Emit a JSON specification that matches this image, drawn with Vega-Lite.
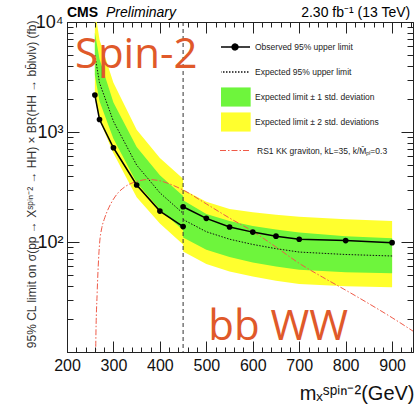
{
  "$schema": "https://vega.github.io/schema/vega-lite/v6.json",
  "width": 346,
  "height": 330,
  "autosize": {"type": "none"},
  "padding": {"left": 67, "top": 22, "right": 5, "bottom": 53},
  "background": "white",
  "config": {
    "view": {"stroke": "#222", "strokeWidth": 1},
    "font": "Liberation Sans",
    "axis": {"tickColor": "#222", "tickWidth": 1, "tickOpacity": 1, "domain": false, "grid": false}
  },
  "datasets": {
    "lim": [
      {"m": 260, "seg": "a", "obs": 2170, "exp": 5000, "g1dn": 3300, "g1up": 8000, "y2dn": 2050, "y2up": 13000},
      {"m": 270, "seg": "a", "obs": 1300, "exp": 2800, "g1dn": 1900, "g1up": 4600, "y2dn": 1280, "y2up": 6900},
      {"m": 300, "seg": "a", "obs": 719, "exp": 1250, "g1dn": 870, "g1up": 1850, "y2dn": 640, "y2up": 2800},
      {"m": 350, "seg": "a", "obs": 330, "exp": 500, "g1dn": 345, "g1up": 730, "y2dn": 255, "y2up": 1050},
      {"m": 400, "seg": "a", "obs": 191, "exp": 280, "g1dn": 197, "g1up": 405, "y2dn": 147, "y2up": 580},
      {"m": 450, "seg": "a", "obs": 138, "exp": 182, "g1dn": 128, "g1up": 262, "y2dn": 95, "y2up": 375},
      {"m": 450, "seg": "b", "obs": 209, "exp": 160, "g1dn": 110, "g1up": 240, "y2dn": 82, "y2up": 300},
      {"m": 500, "seg": "b", "obs": 164, "exp": 124, "g1dn": 85, "g1up": 180, "y2dn": 63, "y2up": 232},
      {"m": 550, "seg": "b", "obs": 137, "exp": 106, "g1dn": 73, "g1up": 155, "y2dn": 54, "y2up": 200},
      {"m": 600, "seg": "b", "obs": 123, "exp": 95, "g1dn": 65, "g1up": 140, "y2dn": 48.5, "y2up": 186},
      {"m": 650, "seg": "b", "obs": 113, "exp": 87, "g1dn": 60, "g1up": 130, "y2dn": 44.5, "y2up": 177},
      {"m": 700, "seg": "b", "obs": 106, "exp": 81, "g1dn": 56, "g1up": 122, "y2dn": 41.5, "y2up": 170},
      {"m": 800, "seg": "b", "obs": 103, "exp": 77, "g1dn": 53, "g1up": 113, "y2dn": 39.5, "y2up": 161},
      {"m": 900, "seg": "b", "obs": 98.6, "exp": 74.6, "g1dn": 52, "g1up": 108, "y2dn": 38.7, "y2up": 155}
    ],
    "rs1": [
      {"m": 260, "xs": 1},
      {"m": 262, "xs": 12},
      {"m": 265, "xs": 35},
      {"m": 268, "xs": 70},
      {"m": 270, "xs": 95},
      {"m": 275, "xs": 135},
      {"m": 280, "xs": 160},
      {"m": 290, "xs": 205},
      {"m": 300, "xs": 245},
      {"m": 310, "xs": 280},
      {"m": 325, "xs": 318},
      {"m": 350, "xs": 355},
      {"m": 375, "xs": 370},
      {"m": 400, "xs": 360},
      {"m": 425, "xs": 332},
      {"m": 450, "xs": 297},
      {"m": 500, "xs": 222},
      {"m": 550, "xs": 165},
      {"m": 600, "xs": 125},
      {"m": 650, "xs": 90},
      {"m": 700, "xs": 64},
      {"m": 750, "xs": 48},
      {"m": 800, "xs": 36.5},
      {"m": 850, "xs": 27.5},
      {"m": 900, "xs": 20.5},
      {"m": 950, "xs": 15}
    ]
  },
  "layer": [
    {
      "data": {"name": "lim"},
      "mark": {"type": "area", "clip": true},
      "encoding": {
        "x": {
          "field": "m", "type": "quantitative",
          "scale": {"domain": [200, 945], "nice": false, "zero": false},
          "axis": {
            "orient": "bottom", "tickCount": 8, "ticks": false,
            "labelFontSize": 16, "labelColor": "#111", "labelPadding": 5, "labelFlush": false, "labelOverlap": false,
            "labelFont": "Liberation Sans",
            "title": "mₓˢᵖⁱⁿ⁻²(GeV)", "titleFontSize": 20, "titleFontWeight": "normal", "titleColor": "#111",
            "titleFont": "Liberation Sans",
            "titleAnchor": "end", "titleAlign": "right", "titleBaseline": "alphabetic", "titleX": 347, "titleY": 47
          }
        },
        "y": {
          "field": "y2dn", "type": "quantitative",
          "scale": {"type": "log", "domain": [10, 10000], "nice": false},
          "axis": {
            "orient": "left", "tickCount": 3, "ticks": false,
            "labelExpr": "datum.value === 100 ? '10²' : datum.value === 1000 ? '10³' : datum.value === 10000 ? '10⁴' : ''",
            "labelFontSize": 18, "labelColor": "#111", "labelPadding": 4, "labelOverlap": false,
            "labelFont": "Liberation Sans",
            "title": "95% CL limit on σ(pp → Xˢᵖⁱⁿ⁻² → HH) × BR(HH → bb̄lνlν) (fb)",
            "titleFontSize": 12, "titleFontWeight": "normal", "titleColor": "#333", "titleFont": "Liberation Sans",
            "titleAngle": -90, "titleAlign": "right", "titleBaseline": "middle", "titleX": -35.5, "titleY": -2
          }
        },
        "y2": {"field": "y2up"},
        "color": {
          "datum": "Expected limit ± 2 std. deviations", "type": "nominal",
          "scale": {
            "domain": ["Observed 95% upper limit", "Expected 95% upper limit", "Expected limit ± 1 std. deviation", "Expected limit ± 2 std. deviations"],
            "range": ["#000000", "#111111", "#6ef53c", "#ffff2e"]
          },
          "legend": {
            "orient": "none", "legendX": 154, "legendY": 15.35, "title": null, "padding": 0,
            "symbolSize": 666, "symbolStrokeWidth": 1.3, "labelOffset": 6, "rowPadding": 5, "gridAlign": "all", "clipHeight": 19.3,
            "labelFontSize": 8.5, "labelFont": "Liberation Sans", "labelColor": "#222", "labelLimit": 300,
            "encode": {
              "symbols": {
                "update": {
                  "shape": {"signal": "(datum.index === 0 ? 'M-1.163,-0.698M-1.163,0.698M-1.163,0H1.163M0.233,0A0.233,0.233,0,1,1,-0.233,0A0.233,0.233,0,1,1,0.233,0Z' : datum.index === 1 ? 'M-1.163,-0.698M-1.163,0.698M-1.163,0H1.163' : 'M-1.163,-0.698H1.163V0.698H-1.163Z')"},
                  "fill": {"signal": "(datum.index === 0 ? '#000000' : datum.index === 2 ? '#6ef53c' : datum.index === 3 ? '#ffff2e' : 'transparent')"},
                  "stroke": {"signal": "(datum.index <= 1 ? '#000000' : 'transparent')"},
                  "strokeDash": {"signal": "(datum.index === 1 ? [1.5, 1.5] : [1, 0])"},
                  "opacity": {"value": 1}
                }
              }
            }
          }
        },
        "detail": {"field": "seg"}
      }
    },
    {
      "data": {"name": "lim"},
      "mark": {"type": "area", "clip": true},
      "encoding": {
        "x": {
          "field": "m", "type": "quantitative",
          "axis": {"orient": "top", "offset": -330, "zindex": 1, "tickCount": 8, "ticks": true, "tickSize": 11, "labels": false, "title": null}
        },
        "y": {
          "field": "g1dn", "type": "quantitative",
          "scale": {"type": "log"},
          "axis": {"orient": "right", "offset": -346, "zindex": 1, "tickCount": 3, "ticks": true, "tickSize": 12, "labels": false, "title": null}
        },
        "y2": {"field": "g1up"},
        "color": {"datum": "Expected limit ± 1 std. deviation", "type": "nominal"},
        "detail": {"field": "seg"}
      }
    },
    {
      "data": {"name": "lim"},
      "mark": {"type": "line", "strokeDash": [1.5, 1.5], "strokeWidth": 1, "clip": true},
      "encoding": {
        "x": {
          "field": "m", "type": "quantitative",
          "axis": {"orient": "top", "offset": -330, "zindex": 1, "tickCount": 37, "ticks": true, "tickSize": 5, "labels": false, "title": null}
        },
        "y": {
          "field": "exp", "type": "quantitative", "scale": {"type": "log"},
          "axis": {"orient": "right", "offset": -346, "zindex": 1, "tickCount": 30, "ticks": true, "tickSize": 6, "labels": false, "title": null}
        },
        "color": {"datum": "Expected 95% upper limit", "type": "nominal"},
        "detail": {"field": "seg"}
      }
    },
    {
      "data": {"name": "rs1"},
      "mark": {"type": "line", "stroke": "#ef5a48", "strokeWidth": 1, "interpolate": "monotone", "clip": true},
      "encoding": {
        "x": {
          "field": "m", "type": "quantitative",
          "axis": {"orient": "bottom", "offset": -330, "zindex": 1, "tickCount": 8, "ticks": true, "tickSize": 11, "labels": false, "title": null}
        },
        "y": {
          "field": "xs", "type": "quantitative", "scale": {"type": "log"},
          "axis": {"orient": "left", "offset": -346, "zindex": 1, "tickCount": 3, "ticks": true, "tickSize": 12, "labels": false, "title": null}
        },
        "strokeDash": {
          "datum": "RS1 KK graviton, kL=35, k/M̄ₚₗ=0.3", "type": "nominal",
          "scale": {"domain": ["RS1 KK graviton, kL=35, k/M̄ₚₗ=0.3"], "range": [[6, 2, 1.5, 2]]},
          "legend": {
            "orient": "none", "legendX": 152.5, "legendY": 113, "title": null, "padding": 0,
            "symbolType": "M-1,-0.6M-1,0.6M-1,0H1", "symbolSize": 900, "symbolStrokeWidth": 1,
            "symbolStrokeColor": "#ef5a48", "labelOffset": 6.5,
            "labelFontSize": 8.5, "labelFont": "Liberation Sans", "labelColor": "#222", "labelLimit": 300,
            "encode": {"symbols": {"update": {"stroke": {"value": "#ef5a48"}, "fill": {"value": "transparent"}, "opacity": {"value": 1}}}}
          }
        }
      }
    },
    {
      "data": {"values": [{}]},
      "mark": {"type": "rule", "strokeDash": [4, 3], "color": "#333", "strokeWidth": 1},
      "encoding": {"x": {"datum": 450, "type": "quantitative", "axis": null}}
    },
    {
      "data": {"name": "lim"},
      "mark": {"type": "line", "strokeWidth": 1.5, "clip": true, "point": {"filled": true, "size": 32}},
      "encoding": {
        "x": {
          "field": "m", "type": "quantitative",
          "axis": {"orient": "bottom", "offset": -330, "zindex": 1, "tickCount": 37, "ticks": true, "tickSize": 5, "labels": false, "title": null}
        },
        "y": {
          "field": "obs", "type": "quantitative", "scale": {"type": "log"},
          "axis": {"orient": "left", "offset": -346, "zindex": 1, "tickCount": 30, "ticks": true, "tickSize": 6, "labels": false, "title": null}
        },
        "color": {"datum": "Observed 95% upper limit", "type": "nominal"},
        "detail": {"field": "seg"}
      }
    },
    {
      "data": {"values": [{}]},
      "mark": {"type": "text", "text": "CMS", "font": "Liberation Sans", "fontWeight": "bold", "fontSize": 14, "align": "left", "baseline": "alphabetic", "dy": -5, "color": "#000"},
      "encoding": {"x": {"datum": 200, "type": "quantitative", "axis": null}, "y": {"datum": 10000, "type": "quantitative", "scale": {"type": "log"}, "axis": null}}
    },
    {
      "data": {"values": [{}]},
      "mark": {"type": "text", "text": "Preliminary", "font": "Liberation Sans", "fontStyle": "italic", "fontSize": 14, "align": "left", "baseline": "alphabetic", "dy": -5, "color": "#000"},
      "encoding": {"x": {"datum": 284, "type": "quantitative", "axis": null}, "y": {"datum": 10000, "type": "quantitative", "scale": {"type": "log"}, "axis": null}}
    },
    {
      "data": {"values": [{}]},
      "mark": {"type": "text", "text": "2.30 fb⁻¹ (13 TeV)", "font": "Liberation Sans", "fontSize": 14, "align": "right", "baseline": "alphabetic", "dy": -5, "color": "#000"},
      "encoding": {"x": {"datum": 939, "type": "quantitative", "axis": null}, "y": {"datum": 10000, "type": "quantitative", "scale": {"type": "log"}, "axis": null}}
    },
    {
      "data": {"values": [{}]},
      "mark": {"type": "text", "text": "Spin-2", "font": "Open Sans", "fontSize": 42, "align": "left", "baseline": "alphabetic", "color": "#e0592a"},
      "encoding": {"x": {"datum": 217, "type": "quantitative", "axis": null}, "y": {"datum": 3800, "type": "quantitative", "scale": {"type": "log"}, "axis": null}}
    },
    {
      "data": {"values": [{}]},
      "mark": {"type": "text", "text": "bb WW", "font": "Open Sans", "fontSize": 42, "align": "left", "baseline": "alphabetic", "color": "#e0592a"},
      "encoding": {"x": {"datum": 504, "type": "quantitative", "axis": null}, "y": {"datum": 12.9, "type": "quantitative", "scale": {"type": "log"}, "axis": null}}
    }
  ]
}
